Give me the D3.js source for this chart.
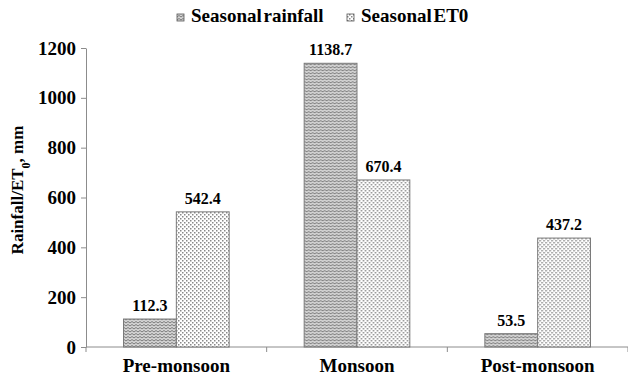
<!DOCTYPE html>
<html>
<head>
<meta charset="utf-8">
<script src="https://d3js.org/d3.v7.min.js"></script>
</head>
<body style="margin:0; background:#fff;">
<script>
var seasons = ["Pre-monsoon", "Monsoon", "Post-monsoon"];
var series = ["Seasonal rainfall", "Seasonal ET0"];
var rainfall = [112.3, 1138.7, 53.5];
var et0 = [542.4, 670.4, 437.2];
var yTicks = [0, 200, 400, 600, 800, 1000, 1200];

var width = 628, height = 376;
var margin = {top: 48, right: 0, bottom: 29, left: 86};
var FONT = "Liberation Serif";

var svg = d3.select("body").append("svg")
    .attr("width", width)
    .attr("height", height);

var defs = svg.append("defs");

// zigzag fill for rainfall
var zz = defs.append("pattern")
    .attr("id", "zigzag")
    .attr("patternUnits", "userSpaceOnUse")
    .attr("width", 4).attr("height", 3);
zz.append("rect").attr("width", 4).attr("height", 3).attr("fill", "#d4d4d4");
zz.append("path")
    .attr("d", "M0,2 L2,0.5 L4,2")
    .attr("fill", "none")
    .attr("stroke", "#6e6e6e")
    .attr("stroke-width", 0.9);

// dotted fill for ET0
var dt = defs.append("pattern")
    .attr("id", "dots")
    .attr("patternUnits", "userSpaceOnUse")
    .attr("width", 4).attr("height", 4);
dt.append("rect").attr("width", 4).attr("height", 4).attr("fill", "#fff");
dt.append("rect").attr("x", 0).attr("y", 0).attr("width", 1.5).attr("height", 1.5).attr("fill", "#888");
dt.append("rect").attr("x", 2).attr("y", 2).attr("width", 1.5).attr("height", 1.5).attr("fill", "#888");

var fills = ["url(#zigzag)", "url(#dots)"];

var x0 = d3.scaleBand()
    .domain(seasons)
    .range([margin.left, width - margin.right])
    .padding(0);

var x1 = d3.scaleBand()
    .domain(series)
    .range([0, x0.bandwidth()])
    .paddingInner(0)
    .paddingOuter(0.71);

var y = d3.scaleLinear()
    .domain([0, 1200])
    .range([height - margin.bottom, margin.top]);

// y axis
var yAxis = svg.append("g")
    .attr("transform", "translate(" + margin.left + ",0)")
    .call(d3.axisLeft(y).tickValues(yTicks).tickFormat(d3.format("d"))
      .tickSize(5).tickSizeOuter(0).tickPadding(5));
yAxis.select(".domain").attr("stroke", "#8c8c8c");
yAxis.selectAll(".tick line").attr("stroke", "#8c8c8c");
yAxis.selectAll(".tick text")
    .attr("fill", "#000")
    .attr("font-family", FONT)
    .attr("font-weight", "bold")
    .attr("font-size", 19);

// x axis
var xAxis = svg.append("g")
    .attr("transform", "translate(0," + y(0) + ")");
xAxis.append("line")
    .attr("x1", margin.left).attr("x2", width - margin.right)
    .attr("y1", 0).attr("y2", 0)
    .attr("stroke", "#8c8c8c");
var bounds = seasons.map(function(d) { return x0(d); });
bounds.push(x0(seasons[2]) + x0.bandwidth());
xAxis.selectAll(".xt")
    .data(bounds)
    .enter().append("line")
    .attr("x1", function(d) { return d; })
    .attr("x2", function(d) { return d; })
    .attr("y1", 0).attr("y2", 5)
    .attr("stroke", "#8c8c8c");
xAxis.selectAll(".xl")
    .data(seasons)
    .enter().append("text")
    .attr("x", function(d) { return x0(d) + x0.bandwidth() / 2; })
    .attr("y", 25)
    .attr("text-anchor", "middle")
    .attr("font-family", FONT)
    .attr("font-weight", "bold")
    .attr("font-size", 19)
    .text(function(d) { return d; });

// bars
var rows = seasons.map(function(s, i) {
  return {season: s, values: [rainfall[i], et0[i]]};
});

var groups = svg.selectAll(".grp")
    .data(rows)
    .enter().append("g")
    .attr("transform", function(d) { return "translate(" + x0(d.season) + ",0)"; });

groups.selectAll("rect")
    .data(function(d) { return d.values.map(function(v, j) { return {k: series[j], v: v, j: j}; }); })
    .enter().append("rect")
    .attr("x", function(d) { return x1(d.k); })
    .attr("y", function(d) { return y(d.v); })
    .attr("width", x1.bandwidth())
    .attr("height", function(d) { return y(0) - y(d.v); })
    .attr("fill", function(d) { return fills[d.j]; })
    .attr("stroke", "#7a7a7a")
    .attr("stroke-width", 1);

groups.selectAll(".val")
    .data(function(d) { return d.values.map(function(v, j) { return {k: series[j], v: v}; }); })
    .enter().append("text")
    .attr("x", function(d) { return x1(d.k) + x1.bandwidth() / 2; })
    .attr("y", function(d) { return y(d.v) - 8; })
    .attr("text-anchor", "middle")
    .attr("font-family", FONT)
    .attr("font-weight", "bold")
    .attr("font-size", 16)
    .text(function(d) { return d3.format(".1f")(d.v); });

// y title
svg.append("text")
    .attr("transform", "translate(23," + 190 + ") rotate(-90)")
    .attr("text-anchor", "middle")
    .attr("font-family", FONT)
    .attr("font-weight", "bold")
    .attr("font-size", 17)
    .html("Rainfall/ET<tspan baseline-shift='sub' font-size='12'>0</tspan>, mm");

// legend
var legX = [177, 347];
var leg = svg.selectAll(".leg")
    .data(series)
    .enter().append("g")
    .attr("transform", function(d, i) { return "translate(" + legX[i] + ",12)"; });
leg.append("rect")
    .attr("width", 7).attr("height", 7)
    .attr("y", 2)
    .attr("fill", function(d, i) { return fills[i]; })
    .attr("stroke", "#555")
    .attr("stroke-width", 0.8);
leg.append("text")
    .attr("x", 14)
    .attr("y", 10)
    .attr("font-family", FONT)
    .attr("font-weight", "bold")
    .attr("font-size", 19)
    .attr("word-spacing", -3)
    .text(function(d) { return d; });
</script>
</body>
</html>
